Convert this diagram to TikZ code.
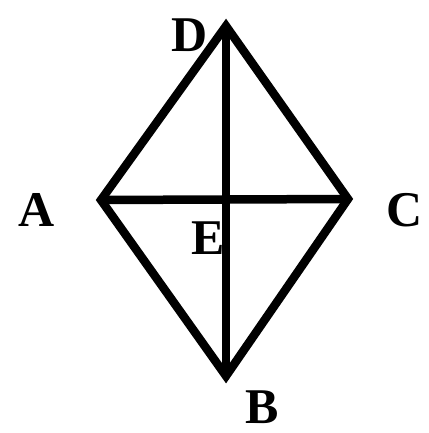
\documentclass[tikz,border=0pt]{standalone}
\usepackage{fontspec}
\setmainfont{Liberation Serif}
\begin{document}
\begin{tikzpicture}[x=1pt,y=-1pt,
  edge/.style={line width=8.5pt,line join=miter,line cap=butt},
  lbl/.style={font=\fontsize{50}{50}\selectfont\bfseries,inner sep=0pt}]
\useasboundingbox (0,0) rectangle (428,433);
\coordinate (D) at (226,26);
\coordinate (A) at (101,200);
\coordinate (C) at (348,199);
\coordinate (B) at (226,376);
\coordinate (E) at (226,199.5);
\draw[edge] (D) -- (A) -- (B) -- (C) -- cycle;
\draw[edge] (A) -- (C);
\draw[edge] (D) -- (B);
\node[lbl] (lD) at (190,35) {D};
\node[lbl] (lA) at (37,210) {A};
\node[lbl] (lC) at (405,210) {C};
\node[lbl] (lE) at (208,238) {E};
\node[lbl] (lB) at (262,407) {B};
\end{tikzpicture}
\end{document}
